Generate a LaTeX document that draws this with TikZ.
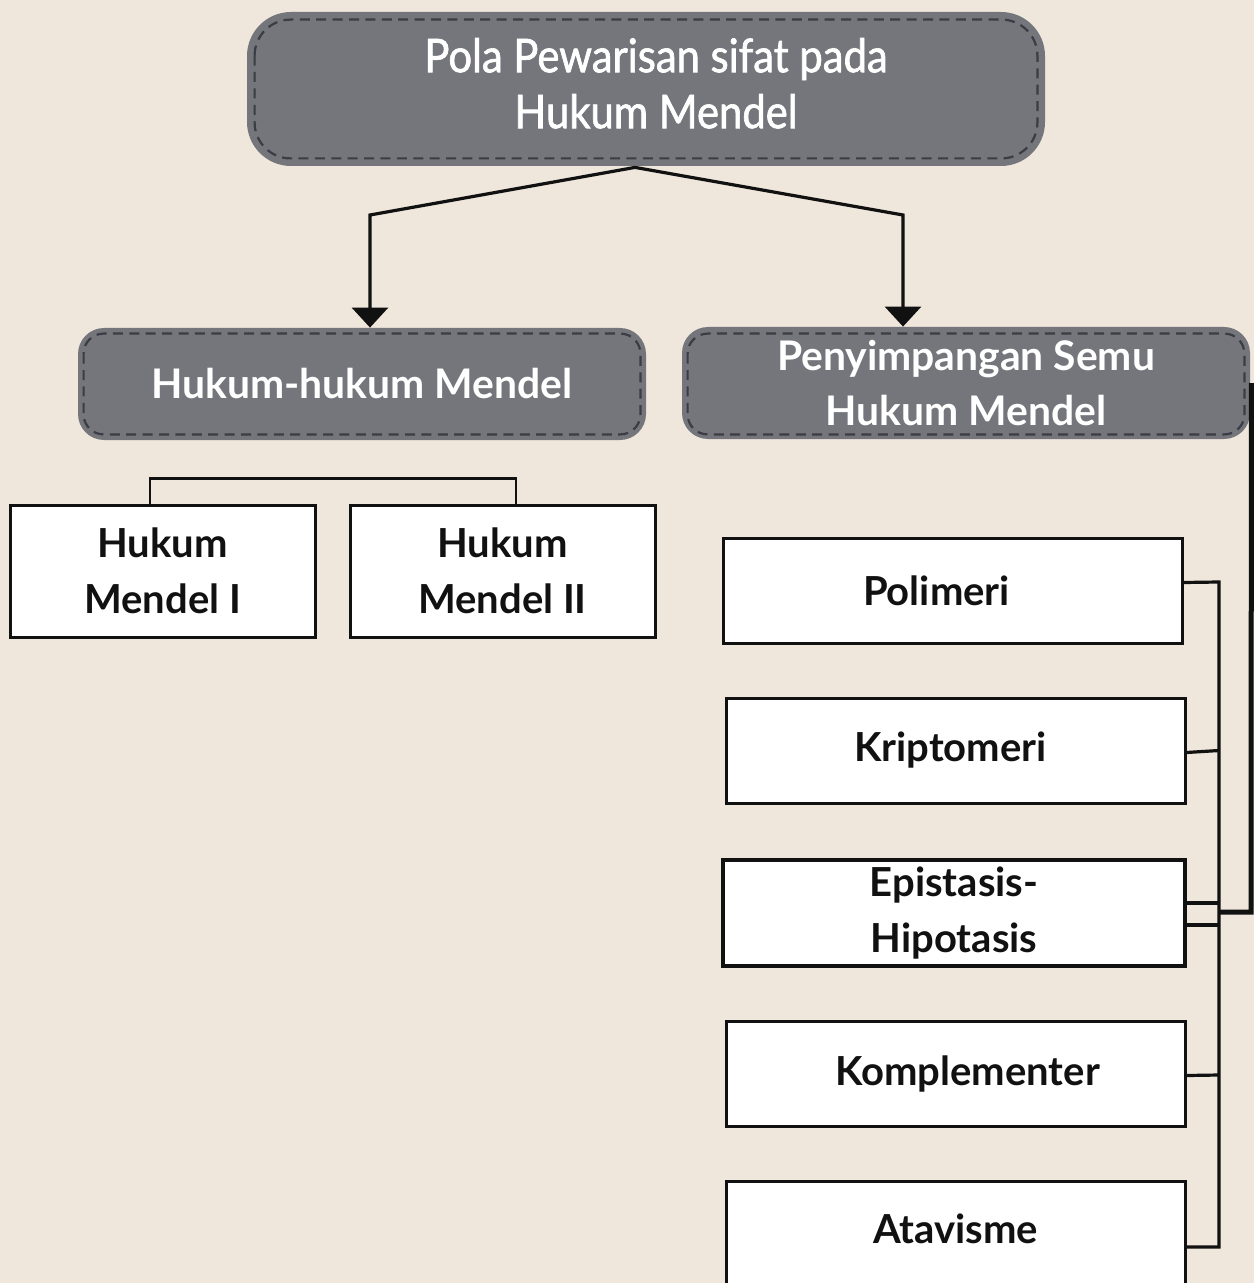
\documentclass[tikz,border=0pt]{standalone}
\usepackage{fontspec}
\setmainfont{Lato}
\newfontfamily\titlefont[FakeStretch=0.9,FakeBold=1.4]{Lato}
\usetikzlibrary{arrows.meta,calc}
\definecolor{bgc}{HTML}{EFE6DC}
\definecolor{nodegray}{HTML}{75767C}
\definecolor{dashgray}{HTML}{3B3C44}
\definecolor{inkc}{HTML}{111111}
\begin{document}
\begin{tikzpicture}[x=0.5pt,y=-0.5pt,
  graybox/.style={fill=nodegray, text=white, align=center, inner sep=0pt,
    font=\bfseries\fontsize{20.4}{27.5}\selectfont},
  innerdash/.style={draw=dashgray, line width=1.1pt, dash pattern=on 5pt off 3.2pt},
  whitebox/.style={draw=inkc, line width=1.5pt, fill=white, text=inkc, align=center, inner sep=0pt,
    font=\bfseries\fontsize{20}{28}\selectfont},
  arr/.style={draw=inkc, line width=1.6pt, -{Triangle[width=18pt,length=10pt]}},
  conn/.style={draw=inkc, line width=1.6pt},
]
\clip (0,0) rectangle (1254,1283);
\fill[bgc] (0,0) rectangle (1254,1283);

% top node
\node[graybox, rounded corners=22pt, minimum width=399pt, minimum height=77pt,
  font=\titlefont\fontsize{23.2}{28}\selectfont] (top) at (646,89)
  {\raisebox{2pt}{\hspace*{10pt}\begin{tabular}{@{}c@{}}Pola Pewarisan sifat pada\\Hukum Mendel\end{tabular}}};
\draw[innerdash, rounded corners=18pt] ([shift={(8,8)}]top.north west) rectangle ([shift={(-8,-8)}]top.south east);

% middle nodes
\node[graybox, rounded corners=13pt, minimum width=284pt, minimum height=56pt] (left) at (362,384)
  {Hukum-hukum Mendel};
\draw[innerdash, rounded corners=10pt] ([shift={(6,6)}]left.north west) rectangle ([shift={(-6,-6)}]left.south east);
\node[graybox, rounded corners=13pt, minimum width=284pt, minimum height=56pt] (right) at (966,383)
  {Penyimpangan Semu\\Hukum Mendel};
\draw[innerdash, rounded corners=10pt] ([shift={(6,7)}]right.north west) rectangle ([shift={(-6,-5)}]right.south east);

% Mendel boxes
\node[whitebox, minimum width=152.5pt, minimum height=66pt] (m1) at (162.5,571) {Hukum\\Mendel I};
\node[whitebox, minimum width=152.5pt, minimum height=66pt] (m2) at (502.5,571) {Hukum\\Mendel II};

% right column
\node[whitebox, minimum width=229.5pt, minimum height=52.5pt] (pol) at (952.5,590.5) {Polimeri\hspace*{16pt}};
\node[whitebox, minimum width=229.5pt, minimum height=52.5pt] (kri) at (955.5,750.5) {Kriptomeri\hspace*{5pt}};
\node[whitebox, line width=2pt, minimum width=231pt, minimum height=53pt] (epi) at (954,913)
  {Epistasis-\\Hipotasis};
\node[whitebox, minimum width=229.5pt, minimum height=52.5pt] (kom) at (955.5,1073.5) {\hspace*{12pt}Komplementer};
\node[whitebox, minimum width=229.5pt, minimum height=55pt] (ata) at (955.5,1236) {\raisebox{7pt}{Atavisme}};

% arrows from top
\draw[arr] ([shift={(-11,1)}]top.south) -- (370,215) -- (370,0 |- left.north);
\draw[arr] ([shift={(-11,1)}]top.south) -- (903,215) -- (903,0 |- right.north);

% bracket over Mendel boxes
\draw[conn, line width=1.1pt] ([shift={(-12.5,0)}]m1.north) -- ([shift={(-12.5,-25)}]m1.north) -- ([shift={(13.5,-25)}]m2.north) -- ([shift={(13.5,0)}]m2.north);

% right bracket
\draw[conn] ([shift={(0,-8)}]pol.east) -- (1219,582) -- (1219,1247) -- ([shift={(0,11)}]ata.east);
\draw[conn] ([shift={(0,2)}]kri.east) -- (1219,0 |- kri.east);
\draw[conn] ([shift={(0,-10)}]epi.east) -- (1219,903);
\draw[conn] ([shift={(0,12)}]epi.east) -- (1219,925);
\draw[conn] ([shift={(0,2)}]kom.east) -- (1219,1075);
\draw[conn, line width=2.5pt] ([shift={(1,0)}]right.east) -- (1251,912) -- (1219,912);
\end{tikzpicture}
\end{document}
